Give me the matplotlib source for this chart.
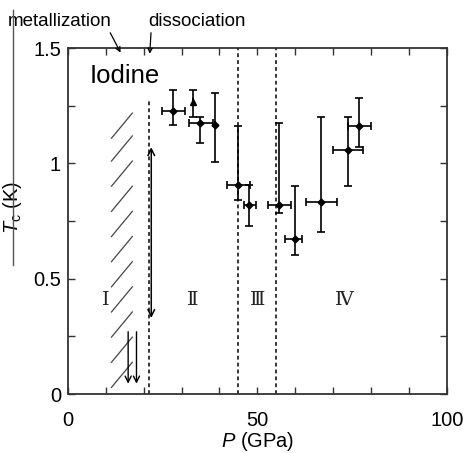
import matplotlib
matplotlib.use("Agg")
import matplotlib.pyplot as plt
from matplotlib.lines import Line2D

plt.rcParams["font.family"] = ["Liberation Sans", "DejaVu Sans"]
plt.rcParams["mathtext.fontset"] = "custom"
plt.rcParams["mathtext.rm"] = "Liberation Sans"
plt.rcParams["mathtext.it"] = "Liberation Sans:italic"

# data
P = [27.8, 32.9, 34.8, 38.8, 44.8, 47.8, 55.7, 59.9, 66.8, 73.8, 76.7]
Tc = [1.227, 1.267, 1.177, 1.167, 0.906, 0.819, 0.819, 0.674, 0.833, 1.057, 1.164]
Tc_hi = [1.317, 1.317, 1.203, 1.305, 1.162, 0.907, 1.173, 0.904, 1.203, 1.203, 1.284]
Tc_lo = [1.167, 1.203, 1.087, 1.004, 0.843, 0.730, 0.783, 0.601, 0.701, 0.904, 1.073]
P_lo = [24.9, 32.9, 32.0, 38.8, 41.9, 46.4, 52.9, 57.4, 62.8, 70.0, 73.8]
P_hi = [30.9, 32.9, 38.3, 38.8, 48.0, 49.6, 59.0, 61.9, 70.9, 77.9, 79.9]

phase_bounds = [45.0, 55.0]
dissoc_line = 21.5
dissoc_top = 1.27

phase_names = ["\u2160", "\u2161", "\u2162", "\u2163"]
phase_x = [9.9, 32.8, 50.0, 73.0]
phase_y = 0.41

# metallization hatch: lower-left ends of the short strokes
hatch_y0 = [0.029, 0.138, 0.247, 0.356, 0.465, 0.574, 0.683, 0.792, 0.901, 1.010, 1.109]
hatch_x = (11.5, 17.0)
hatch_dy = 0.109

range_arrow = (22.0, 0.33, 1.07)
low_arrows_x = [15.9, 18.1]
low_arrows_y = (0.27, 0.045)

fig = plt.figure(figsize=(4.65, 4.53), dpi=100)
ax = fig.add_axes([0.146, 0.130, 0.815, 0.764])

yerr = [[t - lo for t, lo in zip(Tc, Tc_lo)], [hi - t for t, hi in zip(Tc, Tc_hi)]]
xerr = [[p - lo for p, lo in zip(P, P_lo)], [hi - p for p, hi in zip(P, P_hi)]]
ax.errorbar(P, Tc, yerr=yerr, xerr=xerr, fmt="none", ecolor="black",
            elinewidth=1.2, capsize=2.8, capthick=1.2, zorder=3)
for i, (p, t) in enumerate(zip(P, Tc)):
    m = "^" if i == 1 else "D"
    ax.plot(p, t, m, color="black", markersize=4.5 if i == 1 else 3.5, zorder=4)

for xb in phase_bounds:
    ax.axvline(xb, color="black", lw=1.1, ls=(0, (2.5, 2)), zorder=2)
ax.plot([dissoc_line, dissoc_line], [0, dissoc_top], color="black", lw=1.1,
        ls=(0, (2.5, 2)), zorder=2)

for y0 in hatch_y0:
    ax.plot(hatch_x, [y0, y0 + hatch_dy], color="#444444", lw=0.9, zorder=2)

ax.annotate("", xy=(range_arrow[0], range_arrow[1]), xytext=(range_arrow[0], range_arrow[2]),
            arrowprops=dict(arrowstyle="<->", color="black", lw=1.1,
                            shrinkA=0, shrinkB=0, mutation_scale=12))
for xa in low_arrows_x:
    ax.annotate("", xy=(xa, low_arrows_y[1]), xytext=(xa, low_arrows_y[0]),
                arrowprops=dict(arrowstyle="->", color="black", lw=1.0,
                                shrinkA=0, shrinkB=0, mutation_scale=11))

for name, xp in zip(phase_names, phase_x):
    ax.text(xp, phase_y, name, ha="center", va="center", fontsize=14,
            family="DejaVu Serif", color="#222222")

ax.text(5.8, 1.378, "Iodine", ha="left", va="center", fontsize=18.5)

# labels above the frame with arrows pointing to the top axis
ax.annotate("metallization", xy=(13.9, 1.48), xytext=(-15.8, 1.615),
            textcoords="data", ha="left", va="center", fontsize=13.5,
            annotation_clip=False,
            arrowprops=dict(arrowstyle="->", color="black", lw=0.9,
                            shrinkA=0, shrinkB=0, mutation_scale=8,
                            relpos=(0.97, 0.0)))
ax.annotate("dissociation", xy=(21.6, 1.475), xytext=(21.2, 1.615),
            textcoords="data", ha="left", va="center", fontsize=13.5,
            annotation_clip=False,
            arrowprops=dict(arrowstyle="->", color="black", lw=0.9,
                            shrinkA=0, shrinkB=0, mutation_scale=8,
                            relpos=(0.03, 0.0)))

ax.set_xlim(0, 100)
ax.set_ylim(0, 1.5)
ax.set_xticks(range(0, 101, 10))
ax.set_xticklabels(["0", "", "", "", "", "50", "", "", "", "", "100"])
ax.set_yticks([0, 0.25, 0.5, 0.75, 1.0, 1.25, 1.5])
ax.set_yticklabels(["0", "", "0.5", "", "1", "", "1.5"])
ax.tick_params(direction="in", length=5, width=1.0, color="#333333",
               top=True, right=True, labelsize=14.5)
ax.tick_params(axis="x", pad=12)
ax.tick_params(axis="y", pad=5)
for s in ax.spines.values():
    s.set_color("#333333")
    s.set_linewidth(1.3)

ax.set_xlabel("$P$ (GPa)", fontsize=14.5)
ax.xaxis.set_label_coords(0.5, -0.105)
ax.set_ylabel("$T_\\mathrm{c}$ (K)", fontsize=14.5)
ax.yaxis.set_label_coords(-0.115, 0.54)

# stray vertical rule on the left edge of the source image
fig.add_artist(Line2D([0.028, 0.028], [0.415, 0.978], color="#555555", lw=1.0))

fig.savefig("out.png", dpi=100)
